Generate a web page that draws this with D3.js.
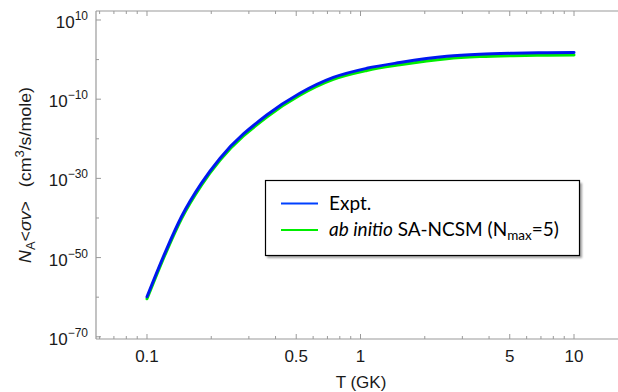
<!DOCTYPE html>
<html>
<head>
<meta charset="utf-8">
<script src="https://cdn.jsdelivr.net/npm/d3@7"></script>
<style>
  html, body { margin: 0; padding: 0; background: #fff; }
  svg { display: block; }
</style>
</head>
<body>
<svg id="chart" width="618" height="392"></svg>
<script>
// Temperature grid (GK)
const temps = [0.1, 0.123, 0.145, 0.18, 0.22, 0.364, 0.52, 0.746, 1.07, 1.53, 2.54, 3.62, 5.19, 7.49, 10]
// log10 of N_A<sigma v> (cm^3/s/mole)
const exptLog = [-59.9, -48.1, -39.7, -31.2, -24.9, -14.0, -8.5, -4.5, -2.2, -0.75, 0.82, 1.34, 1.59, 1.72, 1.77]
const ncsmLog = [-60.4, -48.6, -40.2, -31.7, -25.4, -14.5, -9.0, -5.0, -2.75, -1.32, 0.24, 0.75, 1.0, 1.12, 1.17]

const xTickLabels = [0.1, 0.5, 1, 5, 10]
const yTickExps = [10, -10, -30, -50, -70]
const yMinorExps = [0, -20, -40, -60]

const series = [
  { name: 'ncsm', values: ncsmLog, color: '#00ee00' },
  { name: 'expt', values: exptLog, color: '#0018f0' }
]

const plot = { left: 96, right: 618, top: 11, bottom: 339 }
const axisColor = '#9a9a9a'
const tickFont = '"Liberation Sans", Arial, sans-serif'

const svg = d3.select('#chart')

const x = d3.scaleLog().domain([0.0577, 16.07]).range([plot.left, plot.right])
const y = d3.scaleLog().domain([Math.pow(10, -70.56), Math.pow(10, 12.27)]).range([plot.bottom, plot.top])

// x ticks: every 1..9 per decade
const xTicks = []
for (let e = -2; e <= 1; e++) {
  for (let m = 1; m <= 9; m++) {
    const v = m * Math.pow(10, e)
    if (v >= x.domain()[0] && v <= x.domain()[1]) xTicks.push(v)
  }
}
const isMajorX = v => xTickLabels.some(t => Math.abs(t - v) < 1e-9)

const frame = svg.append('g').attr('class', 'frame')

// frame lines (left, bottom, top)
frame.append('line').attr('x1', plot.left).attr('x2', plot.left).attr('y1', plot.top).attr('y2', plot.bottom)
frame.append('line').attr('x1', plot.left).attr('x2', plot.right).attr('y1', plot.bottom).attr('y2', plot.bottom)
frame.append('line').attr('x1', plot.left).attr('x2', plot.right).attr('y1', plot.top).attr('y2', plot.top)
frame.selectAll('line').attr('stroke', axisColor).attr('stroke-width', 1.2)

// x ticks bottom + top (inward)
frame.selectAll('line.xtb')
  .data(xTicks)
  .join('line')
  .attr('class', 'xtb')
  .attr('x1', d => x(d)).attr('x2', d => x(d))
  .attr('y1', plot.bottom).attr('y2', d => plot.bottom - (isMajorX(d) ? 5 : 3))
  .attr('stroke', axisColor).attr('stroke-width', 1)

frame.selectAll('line.xtt')
  .data(xTicks)
  .join('line')
  .attr('class', 'xtt')
  .attr('x1', d => x(d)).attr('x2', d => x(d))
  .attr('y1', plot.top).attr('y2', d => plot.top + (isMajorX(d) ? 5 : 3))
  .attr('stroke', axisColor).attr('stroke-width', 1)

svg.append('g').selectAll('text')
  .data(xTickLabels)
  .join('text')
  .attr('x', d => x(d))
  .attr('y', 362)
  .attr('text-anchor', 'middle')
  .attr('font-family', tickFont)
  .attr('font-size', 17)
  .attr('fill', '#1a1a1a')
  .text(d => d)

// y ticks
frame.selectAll('line.ytm')
  .data(yTickExps)
  .join('line')
  .attr('class', 'ytm')
  .attr('x1', plot.left).attr('x2', plot.left + 5)
  .attr('y1', d => y(Math.pow(10, d))).attr('y2', d => y(Math.pow(10, d)))
  .attr('stroke', axisColor).attr('stroke-width', 1)

frame.selectAll('line.ytn')
  .data(yMinorExps)
  .join('line')
  .attr('class', 'ytn')
  .attr('x1', plot.left).attr('x2', plot.left + 3)
  .attr('y1', d => y(Math.pow(10, d))).attr('y2', d => y(Math.pow(10, d)))
  .attr('stroke', axisColor).attr('stroke-width', 1)

const yLab = svg.append('g').selectAll('text')
  .data(yTickExps)
  .join('text')
  .attr('x', 88)
  .attr('y', d => y(Math.pow(10, d)) + 8)
  .attr('text-anchor', 'end')
  .attr('font-family', tickFont)
  .attr('font-size', 17)
  .attr('fill', '#1a1a1a')
yLab.append('tspan').text('10')
yLab.append('tspan')
  .attr('font-size', 12)
  .attr('dy', -8)
  .text(d => (d < 0 ? '\u2212' + Math.abs(d) : String(d)))

// curves
const line = d3.line()
  .x((d, i) => x(temps[i]))
  .y(d => y(Math.pow(10, d)))
  .curve(d3.curveMonotoneX)

svg.append('g').selectAll('path')
  .data(series)
  .join('path')
  .attr('d', d => line(d.values))
  .attr('fill', 'none')
  .attr('stroke', d => d.color)
  .attr('stroke-width', 3)
  .attr('stroke-linecap', 'round')

// axis titles
svg.append('text')
  .attr('x', 361)
  .attr('y', 388)
  .attr('text-anchor', 'middle')
  .attr('font-family', tickFont)
  .attr('font-size', 17)
  .attr('fill', '#1a1a1a')
  .text('T (GK)')

const yTitle = svg.append('text')
  .attr('transform', 'translate(31,175) rotate(-90)')
  .attr('text-anchor', 'middle')
  .attr('font-family', tickFont)
  .attr('font-size', 16.5)
  .attr('fill', '#1a1a1a')
  .attr('textLength', 176)
  .attr('lengthAdjust', 'spacingAndGlyphs')
yTitle.append('tspan').attr('font-style', 'italic').text('N')
yTitle.append('tspan').attr('font-size', 12).attr('dy', 4).text('A')
yTitle.append('tspan').attr('dy', -4).text('<')
yTitle.append('tspan').attr('font-style', 'italic').text('\u03c3v')
yTitle.append('tspan').text('>\u2002 (cm')
yTitle.append('tspan').attr('font-size', 12).attr('dy', -7).text('3')
yTitle.append('tspan').attr('dy', 7).text('/s/mole)')

// legend
const defs = svg.append('defs')
defs.append('filter').attr('id', 'legend-shadow')
  .append('feGaussianBlur').attr('stdDeviation', 1.2)

const legend = svg.append('g').attr('class', 'legend')
legend.append('rect')
  .attr('x', 267).attr('y', 183).attr('width', 315).attr('height', 75)
  .attr('fill', '#777').attr('opacity', 0.7)
  .attr('filter', 'url(#legend-shadow)')
legend.append('rect')
  .attr('x', 265.5).attr('y', 180.5).attr('width', 314).attr('height', 75)
  .attr('fill', '#fff').attr('stroke', '#000').attr('stroke-width', 1.2)

const legendRows = [
  { color: '#0040ff', y: 203.5 },
  { color: '#00ee00', y: 230 }
]
legend.selectAll('line.key')
  .data(legendRows)
  .join('line')
  .attr('class', 'key')
  .attr('x1', 281).attr('x2', 318)
  .attr('y1', d => d.y).attr('y2', d => d.y)
  .attr('stroke', d => d.color).attr('stroke-width', 2.2)

const legendFont = 'Lato, "Open Sans", sans-serif'
legend.append('text')
  .attr('x', 329).attr('y', 210)
  .attr('font-family', legendFont).attr('font-size', 19).attr('fill', '#000')
  .text('Expt.')

const l2 = legend.append('text')
  .attr('x', 329).attr('y', 236)
  .attr('font-family', legendFont).attr('font-size', 19).attr('fill', '#000')
l2.append('tspan').attr('font-style', 'italic').text('ab initio')
l2.append('tspan').text(' SA-NCSM (N')
l2.append('tspan').attr('font-size', 13.5).attr('dy', 4).text('max')
l2.append('tspan').attr('dy', -4).text('=5)')
</script>
</body>
</html>
